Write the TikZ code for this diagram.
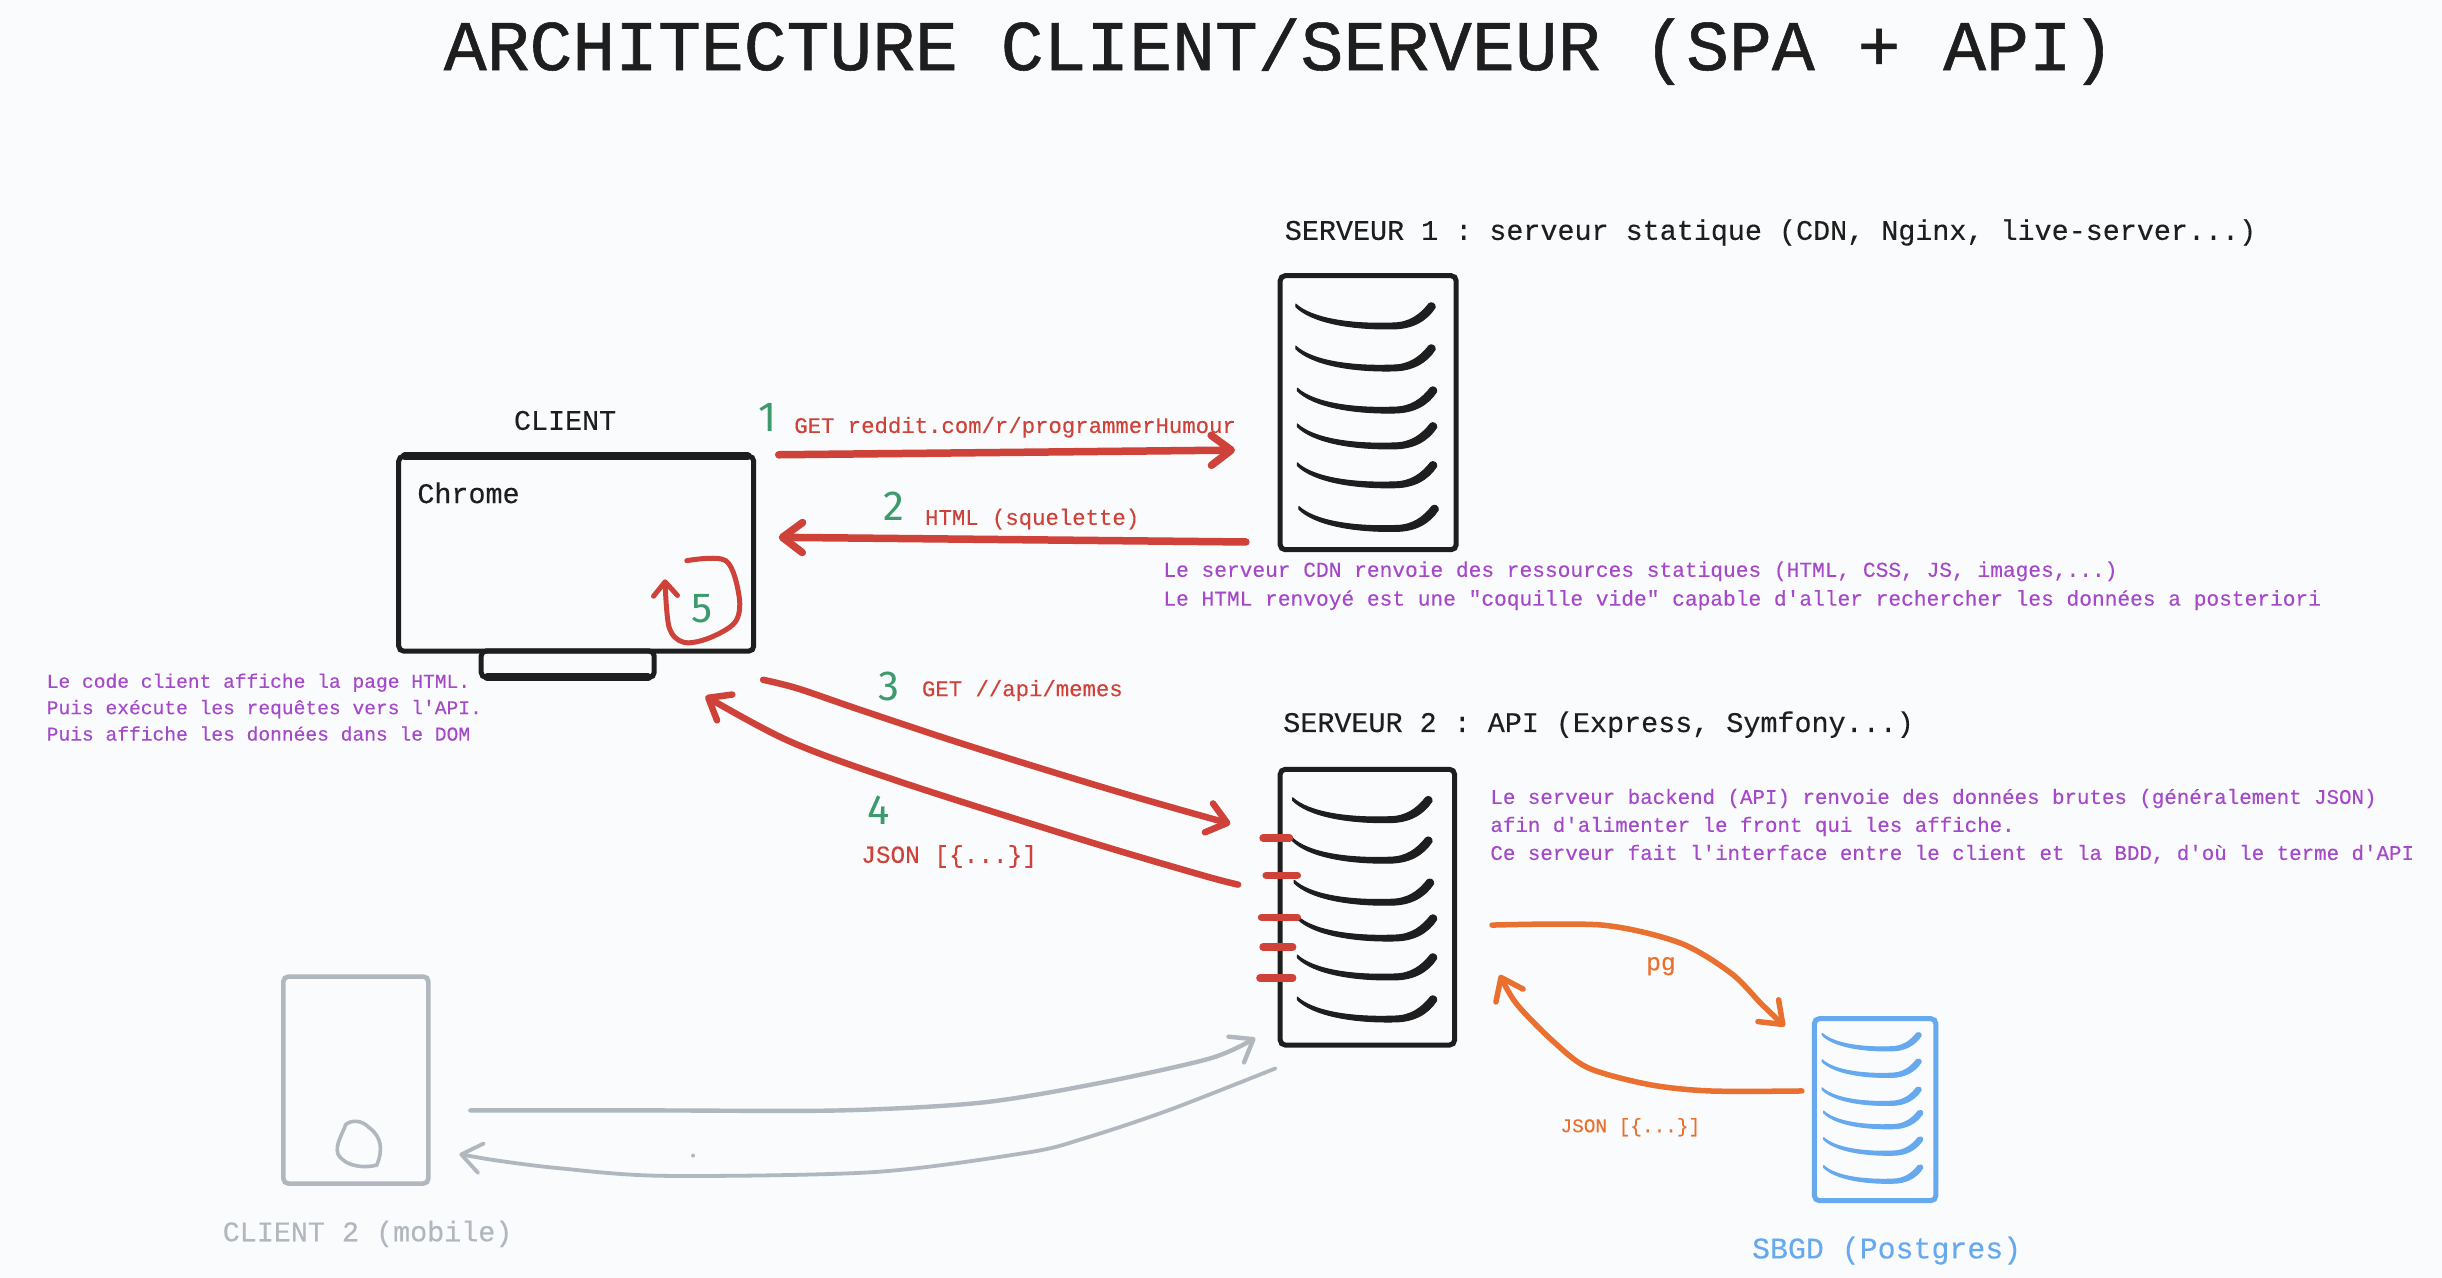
\documentclass[tikz,border=0pt]{standalone}
\usepackage{fontspec}
\setmonofont{Liberation Mono}[FakeBold=0.25]
\newfontfamily\titlefont{Liberation Mono}[FakeBold=0.8]
\setsansfont{Fira Sans}
\usetikzlibrary{arrows.meta}
\definecolor{bgc}{HTML}{F9FBFD}
\definecolor{ink}{HTML}{1E1E1E}
\definecolor{redc}{HTML}{CF4239}
\definecolor{greenc}{HTML}{3D9A6C}
\definecolor{purplec}{HTML}{A549C9}
\definecolor{orangec}{HTML}{EA7030}
\definecolor{bluec}{HTML}{66A9EE}
\definecolor{grayc}{HTML}{B0B7BE}
\tikzset{
  x=1.5574pt,y=-1.5574pt,
  txt/.style={inner sep=0pt,outer sep=0pt,anchor=base west,font=\ttfamily\fontsize{#1}{#1}\selectfont},
  para/.style 2 args={inner sep=0pt,outer sep=0pt,anchor=north west,align=left,text=purplec,font=\ttfamily\fontsize{#1}{#2}\selectfont},
  digit/.style={inner sep=0pt,outer sep=0pt,text=greenc,font=\sffamily\fontsize{42}{42}\selectfont},
  sketchbox/.style={draw=ink,line width=5pt,rounded corners=5pt,inner sep=0pt,outer sep=0pt},
  thickedge/.style={line width=8pt,line cap=round},
  slatfill/.style={line width=1pt,line join=round},
  redarrow/.style={draw=redc,line width=7.5pt,line cap=round,-{Straight Barb[length=20pt,width=30pt,round]}},
  redthin/.style={draw=redc,line width=6.5pt,line cap=round,-{Straight Barb[length=19pt,width=30pt,round]}},
  redloop/.style={draw=redc,line width=5pt,line cap=round,-{Straight Barb[length=14pt,width=24pt,round]}},
  orangearrow/.style={draw=orangec,line width=5.5pt,line cap=round,-{Straight Barb[length=20pt,width=30pt,round]}},
  grayarrow/.style={draw=grayc,line width=4.4pt,line cap=round,-{Straight Barb[length=20pt,width=30pt,round]}},
  tick/.style={draw=redc,line width=7.5pt,line cap=round},
}
\newcommand{\slatat}[4]{\filldraw[slatfill,draw=#4,fill=#4,shift={(#1,#2)},scale=#3] (0,-0.8) .. controls (10,8.5) and (35,12.4) .. (62,11.4) .. controls (73,11.4) and (80,6) .. (85.5,-1) .. controls (87,-2.5) and (90,-1) .. (89.5,1.5) .. controls (84,10) and (75,15.2) .. (62,15.2) .. controls (35,15.7) and (10,11) .. (0,1) -- cycle;}
\begin{document}
\begin{tikzpicture}
\fill[bgc] (0,0) rectangle (1568,820.6);
\useasboundingbox (0,0) rectangle (1568,820.6);

% texts
\node[inner sep=0pt,outer sep=0pt,anchor=base west,text=ink,font=\titlefont\fontsize{71.4}{71.4}\selectfont] (title) at (285,45) {ARCHITECTURE CLIENT/SERVEUR (SPA + API)};
\node[txt=28.4,text=ink] (s1label) at (825,154) {SERVEUR 1 : serveur statique (CDN, Nginx, live-server...)};
\node[txt=28.4,text=ink] (clientlabel) at (330,276) {CLIENT};
\node[txt=28.4,text=ink] (s2label) at (824,470) {SERVEUR 2 : API (Express, Symfony...)};
\node[txt=28.4,text=grayc] (c2label) at (143,797) {CLIENT 2 (mobile)};
\node[txt=29.9,text=bluec] (dblabel) at (1125,808) {SBGD (Postgres)};
\node[txt=22.3,text=redc] (l1) at (510,278) {GET reddit.com/r/programmerHumour};
\node[txt=22.3,text=redc] (l2) at (594,337) {HTML (squelette)};
\node[txt=22.3,text=redc] (l3) at (592,447) {GET //api/memes};
\node[txt=24.4,text=redc] (l4) at (553,554) {JSON [\{...\}]};
\node[txt=24.6,text=orangec] (pg) at (1057,623) {pg};
\node[txt=19.4,text=orangec] (jsono) at (1002,727) {JSON [\{...\}]};
\node[para={21.2}{28.8}] (note1) at (747,360.5) {Le serveur CDN renvoie des ressources statiques (HTML, CSS, JS, images,...)\\Le HTML renvoyé est une "coquille vide" capable d'aller rechercher les données a posteriori};
\node[para={19.6}{26.4}] (note2) at (30,432.5) {Le code client affiche la page HTML.\\Puis exécute les requêtes vers l'API.\\Puis affiche les données dans le DOM};
\node[para={20.8}{28}] (note3) at (957,506.5) {Le serveur backend (API) renvoie des données brutes (généralement JSON)\\afin d'alimenter le front qui les affiche.\\Ce serveur fait l'interface entre le client et la BDD, d'où le terme d'API};

% digits
\node[digit] (n1) at (493,268) {1};
\node[digit] (n2) at (574,325) {2};
\node[digit] (n3) at (571,441) {3};
\node[digit] (n4) at (564,520) {4};
\node[digit] (n5) at (451,391) {5};

% client
\node[sketchbox,minimum width=173pt,minimum height=26.5pt] (stand) at (364.5,426.5) {};
\draw[ink,thickedge] ([xshift=6pt]stand.south west) -- ([xshift=-6pt]stand.south east);
\node[sketchbox,minimum width=355pt,minimum height=195pt] (client) at (370,355.5) {};
\draw[ink,thickedge] ([xshift=6pt]client.north west) -- ([xshift=-6pt]client.north east);
\node[txt=28.4,text=ink] (chrome) at (268,323) {Chrome};

% server 1
\node[sketchbox,minimum width=176pt,minimum height=274pt] (server1) at (878.5,265) {};
\slatat{832}{196}{1}{ink}
\slatat{832}{223}{1}{ink}
\slatat{833}{250}{1}{ink}
\slatat{833}{273}{1}{ink}
\slatat{833}{298}{1}{ink}
\slatat{834}{326}{1}{ink}

% server 2
\node[sketchbox,minimum width=174.4pt,minimum height=275.7pt] (server2) at (878,582.5) {};
\slatat{830}{513}{1}{ink}
\slatat{830}{539}{1}{ink}
\slatat{831}{566}{1}{ink}
\slatat{833}{589}{1}{ink}
\slatat{833}{614}{1}{ink}
\slatat{833}{641}{1}{ink}

% database
\node[sketchbox,draw=bluec,minimum width=121.5pt,minimum height=182pt] (db) at (1204,712.5) {};
\slatat{1170}{664}{0.71}{bluec}
\slatat{1170}{681}{0.71}{bluec}
\slatat{1170}{699}{0.71}{bluec}
\slatat{1171}{714}{0.71}{bluec}
\slatat{1171}{731}{0.71}{bluec}
\slatat{1171}{749}{0.71}{bluec}

% tablet
\node[sketchbox,draw=grayc,line width=4.6pt,minimum width=145pt,minimum height=207pt] (tablet) at (228.5,693.5) {};
\draw[grayc,line width=3.6pt,line cap=round,line join=round] (222,722) .. controls (226,719) and (232,719) .. (237,724) .. controls (245,730) and (246,738) .. (242,748) .. controls (236,750) and (222,750) .. (217,741) .. controls (215,735) and (220,728) .. (222,722);
\fill[grayc] (445,742) circle (1.3);

% red ticks
\coordinate (ta1) at (811,538); \coordinate (ta2) at (828,538);
\coordinate (tb1) at (813,562); \coordinate (tb2) at (833,562);
\coordinate (tc1) at (810,589); \coordinate (tc2) at (833,589);
\coordinate (td1) at (811,608); \coordinate (td2) at (830,608);
\coordinate (te1) at (809,628); \coordinate (te2) at (830,628);
\draw[tick] (ta1) -- (ta2);
\draw[tick] (tb1) -- (tb2);
\draw[tick] (tc1) -- (tc2);
\draw[tick] (td1) -- (td2);
\draw[tick] (te1) -- (te2);

% connector end points
\coordinate (a1s) at (500,292); \coordinate (a1e) at (793,289);
\coordinate (a2s) at (800,348); \coordinate (a2e) at (500,345);
\coordinate (a3s) at (490,436.5); \coordinate (a3e) at (790,529);
\coordinate (a4s) at (795,568); \coordinate (a4e) at (453,447);
\coordinate (a5s) at (441,360); \coordinate (a5e) at (427,372);
\coordinate (o1s) at (958,594); \coordinate (o1e) at (1146,659);
\coordinate (o2s) at (1157,700.5); \coordinate (o2e) at (963,626);
\coordinate (g1s) at (302,713); \coordinate (g1e) at (806,666.5);
\coordinate (g2s) at (819,686); \coordinate (g2e) at (295,741);

\draw[redarrow] (a1s) -- (a1e);
\draw[redarrow] (a2s) -- (a2e);
\draw[redthin] plot[smooth,tension=0.55] coordinates {(a3s) (512,442) (550,455) (610,475) (672,494.5) (730,512) (a3e)};
\draw[redthin] plot[smooth,tension=0.55] coordinates {(a4s) (772,562) (695.7,539.4) (578,502) (507,476) (a4e)};
\draw[redloop] plot[smooth,tension=0.55] coordinates {(a5s) (466,360) (474.6,383) (472,399.5) (455,409.8) (439,412.4) (429.6,402.6) (a5e)};
\draw[orangearrow] plot[smooth,tension=0.5] coordinates {(o1s) (1029,594) (1078.6,605.4) (1111.4,624.8) (1130.8,644.4) (o1e)};
\draw[orangearrow] plot[smooth,tension=0.5] coordinates {(o2s) (1098,700.5) (1059,696.4) (1019.6,685.6) (996.6,668) (973.6,644.4) (o2e)};
\draw[grayarrow] plot[smooth,tension=0.5] coordinates {(g1s) (420,713) (539,713) (630,708) (705,695.6) (777,679.6) (g1e)};
\draw[grayarrow,line width=3.8pt] plot[smooth,tension=0.5] coordinates {(g2s) (750,713) (696,731) (660,740) (561,752.6) (426,755) (358,750) (318,745) (g2e)};
\end{tikzpicture}
\end{document}
